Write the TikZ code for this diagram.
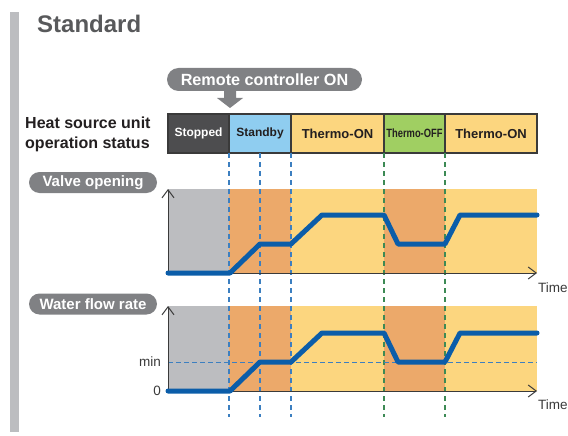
\documentclass[tikz,border=0pt]{standalone}
\usepackage{fontspec}
\setmainfont{Liberation Sans}
\usepackage{tikz}
\usetikzlibrary{arrows.meta, positioning, calc}

\definecolor{sidegray}{HTML}{BCBDC0}
\definecolor{titlegray}{HTML}{58595B}
\definecolor{pillgray}{HTML}{808184}
\definecolor{stopgray}{HTML}{4D4D4F}
\definecolor{standbyblue}{HTML}{8FCDF0}
\definecolor{onyellow}{HTML}{FCD67F}
\definecolor{offgreen}{HTML}{A0CF62}
\definecolor{warmorange}{HTML}{ECA96A}
\definecolor{idlegray}{HTML}{BCBDC0}
\definecolor{flowblue}{HTML}{0B5DA9}
\definecolor{dashblue}{HTML}{3C7FC0}
\definecolor{dashgreen}{HTML}{3D8A55}
\definecolor{axisgray}{HTML}{3A3A3A}
\definecolor{inkdark}{HTML}{231F20}

\begin{document}
\begin{tikzpicture}[x=1pt,y=-1pt,>={Straight Barb[length=8pt,width=12pt]},
	status/.style={draw=axisgray,line width=1.2pt,minimum height=39pt,inner sep=0pt,
		outer sep=0pt,text=inkdark,font=\fontsize{12}{14}\selectfont\bfseries},
	pill/.style={fill=pillgray,rounded corners=10.5pt,minimum height=21pt,text=white,
		inner sep=0pt,font=\fontsize{15}{17}\selectfont\bfseries},
	phase line/.style={dash pattern=on 5pt off 4pt,line width=1.1pt},
	flow/.style={flowblue,line width=5pt,line cap=round,line join=round},
	small label/.style={font=\fontsize{13.5}{15}\selectfont,text=axisgray,inner sep=0pt}]
	
	\useasboundingbox (0,0) rectangle (568,436);
	\fill[sidegray] (10,12) rectangle (18.5,432);
	
	\node[anchor=west,text=titlegray,inner sep=0pt,
		font=\fontsize{24}{28}\selectfont\bfseries] (title) at (37,24) {Standard};
	
	% remote switch-on marker
	\node[pill,minimum width=195pt,minimum height=23pt,rounded corners=11.5pt,
		font=\fontsize{16.2}{18}\selectfont\bfseries] (remote) at (264.5,79.5) {Remote controller ON};
	\fill[pillgray] (224,90) -- (236,90) -- (236,98) -- (243,98) -- (230,108)
		-- (217,98) -- (224,98) -- cycle;
	
	% operation status bar
	\node[anchor=west,align=left,inner sep=0pt,text=inkdark,
		font=\fontsize{16}{20}\selectfont\bfseries] (unit) at (25,134) {Heat source unit\\operation status};
	\node[status,fill=stopgray,text=white,minimum width=61pt,anchor=north west] (stopped) at (168,114) {Stopped};
	\node[status,fill=standbyblue,minimum width=62pt,right=0pt of stopped] (standby) {Standby};
	\node[status,fill=onyellow,minimum width=93pt,font=\fontsize{13}{15}\selectfont\bfseries,
		right=0pt of standby] (on1) {Thermo-ON};
	\node[status,fill=offgreen,minimum width=61pt,right=0pt of on1] (off) {\scalebox{0.78}[1]{Thermo-OFF}};
	\node[status,fill=onyellow,minimum width=92pt,font=\fontsize{13}{15}\selectfont\bfseries,
		right=0pt of off] (on2) {Thermo-ON};
	
	\coordinate (vtop) at (0,189);
	\coordinate (vbase) at (0,273);
	\coordinate (wtop) at (0,306);
	\coordinate (wbase) at (0,391);
	\coordinate (wmin) at (0,362);
	\coordinate (bottom) at (0,417);
	
	% phase backgrounds of both charts
	\foreach \hi/\lo in {vtop/vbase, wtop/wbase} {
		\fill[idlegray] (stopped.west |- \hi) rectangle (stopped.east |- \lo);
		\fill[warmorange] (standby.west |- \hi) rectangle (standby.east |- \lo);
		\fill[onyellow] (on1.west |- \hi) rectangle (on1.east |- \lo);
		\fill[warmorange] (off.west |- \hi) rectangle (off.east |- \lo);
		\fill[onyellow] (on2.west |- \hi) rectangle (on2.east |- \lo);
	}
	
	\draw[phase line,dashblue] (standby.south west) -- (standby.west |- bottom);
	\draw[phase line,dashblue] (standby.south) -- (standby.south |- bottom);
	\draw[phase line,dashblue] (on1.south west) -- (on1.west |- bottom);
	\draw[phase line,dashgreen] (off.south west) -- (off.west |- bottom);
	\draw[phase line,dashgreen] (on2.south west) -- (on2.west |- bottom);
	\draw[dashblue,dash pattern=on 5pt off 3pt,line width=1pt] (stopped.west |- wmin) -- (on2.east |- wmin);
	
	% axes
	\draw[->,axisgray,line width=1pt] (stopped.west |- vbase) -- (stopped.west |- vtop);
	\draw[->,axisgray,line width=1pt] (stopped.west |- vbase) -- (on2.east |- vbase);
	\draw[->,axisgray,line width=1pt] (stopped.west |- wbase) -- (stopped.west |- wtop);
	\draw[->,axisgray,line width=1pt] (stopped.west |- wbase) -- (on2.east |- wbase);
	
	% valve opening and water flow
	\draw[flow] (168,273) -- (230,273) -- (260,244) -- (291,244) -- (322,215) -- (384,215)
		-- (398,244) -- (445,244) -- (460,215) -- (537,215);
	\draw[flow] (168,391) -- (230,391) -- (260,362) -- (291,362) -- (322,333) -- (384,333)
		-- (398,362) -- (445,362) -- (460,333) -- (537,333);
	
	\node[pill,minimum width=128pt] (valve) at (93,182.5) {Valve opening};
	\node[pill,minimum width=128pt] (water) at (93,304) {Water flow rate};
	
	\node[small label,anchor=west] (time1) at (538,288) {Time};
	\node[small label,anchor=west] (time2) at (538,405) {Time};
	\node[small label,anchor=east] (minlabel) at (161,362) {min};
	\node[small label,anchor=east] (zero) at (161,391) {0};
\end{tikzpicture}
\end{document}
